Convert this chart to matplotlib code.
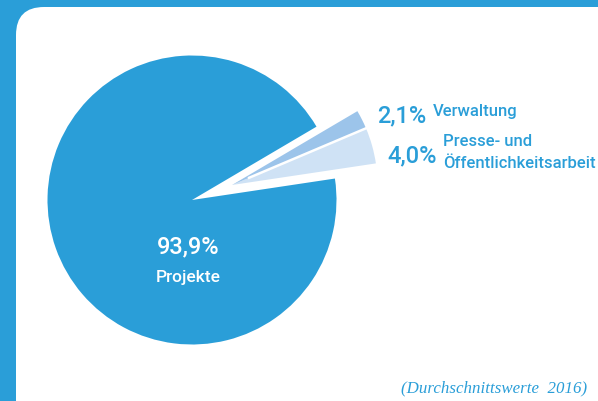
import numpy as np
import matplotlib.pyplot as plt
from matplotlib.patches import FancyBboxPatch

# data
labels = ['Projekte', 'Presse- und\nÖffentlichkeitsarbeit', 'Verwaltung']
shares = [93.9, 4.0, 2.1]
share_text = ['93,9%', '4,0%', '2,1%']
colors = ['#2a9ed8', '#cfe2f5', '#9cc4ea']
note = '(Durchschnittswerte  2016)'

BLUE = '#2a9ed8'
W, H = 598, 401

fig = plt.figure(figsize=(W / 100, H / 100), dpi=100, facecolor=BLUE)
ax = fig.add_axes([0, 0, 1, 1])

# white panel with rounded corners
panel = FancyBboxPatch((16, -60), 640, H - 7 + 60, boxstyle='round,pad=0,rounding_size=28',
                       facecolor='white', edgecolor='none', zorder=0)
ax.add_patch(panel)

cx, cy, r = 192, H - 200, 144.5
start = 30.5
sx, sy = cx + 40, cy + 15   # shared tip of the pulled-out slices

# big slice
w1, _ = ax.pie(shares, colors=[colors[0], 'none', 'none'], startangle=start,
               center=(cx, cy), radius=r, wedgeprops=dict(linewidth=0), frame=True)
# small slices, pulled out together
w2, _ = ax.pie(shares, colors=['none', colors[1], colors[2]], startangle=start,
               center=(sx, sy), radius=r + 1, wedgeprops=dict(linewidth=0), frame=True)
for w in w1 + w2:
    w.set_zorder(2)

# white separator between the two small slices
ang = np.deg2rad(start + 360 * (shares[0] + shares[1]) / sum(shares))
rr = np.array([0.12, 1.05]) * r
ax.plot(sx + rr * np.cos(ang), sy + rr * np.sin(ang), color='white', lw=1.8,
        solid_capstyle='butt', zorder=2.5)

ax.set_xlim(0, W)
ax.set_ylim(0, H)
ax.set_aspect('equal')
ax.axis('off')

fam = ['Roboto', 'DejaVu Sans']
ax.text(188, H - 253, share_text[0], color='white', fontsize=17, family=fam,
        fontweight='medium', ha='center', va='baseline', zorder=3)
ax.text(188, H - 282, labels[0], color='white', fontsize=12.5, family=fam,
        fontweight='medium', ha='center', va='baseline', zorder=3)

ax.text(377, H - 122, share_text[2], color=BLUE, fontsize=17, family=fam,
        fontweight='medium', ha='left', va='baseline', zorder=3)
ax.text(433, H - 116, labels[2], color=BLUE, fontsize=12, family=fam,
        fontweight='medium', ha='left', va='baseline', zorder=3)

ax.text(387, H - 162, share_text[1], color=BLUE, fontsize=17, family=fam,
        fontweight='medium', ha='left', va='baseline', zorder=3)
ax.text(443, H - 146, labels[1].split('\n')[0], color=BLUE, fontsize=12, family=fam,
        fontweight='medium', ha='left', va='baseline', zorder=3)
ax.text(443, H - 168, labels[1].split('\n')[1], color=BLUE, fontsize=12, family=fam,
        fontweight='medium', ha='left', va='baseline', zorder=3)

ax.text(587, H - 392, note, color=BLUE, fontsize=12.2, family=['Liberation Serif'],
        style='italic', ha='right', va='baseline', zorder=3)

fig.savefig('out.png', dpi=100, facecolor=BLUE)
